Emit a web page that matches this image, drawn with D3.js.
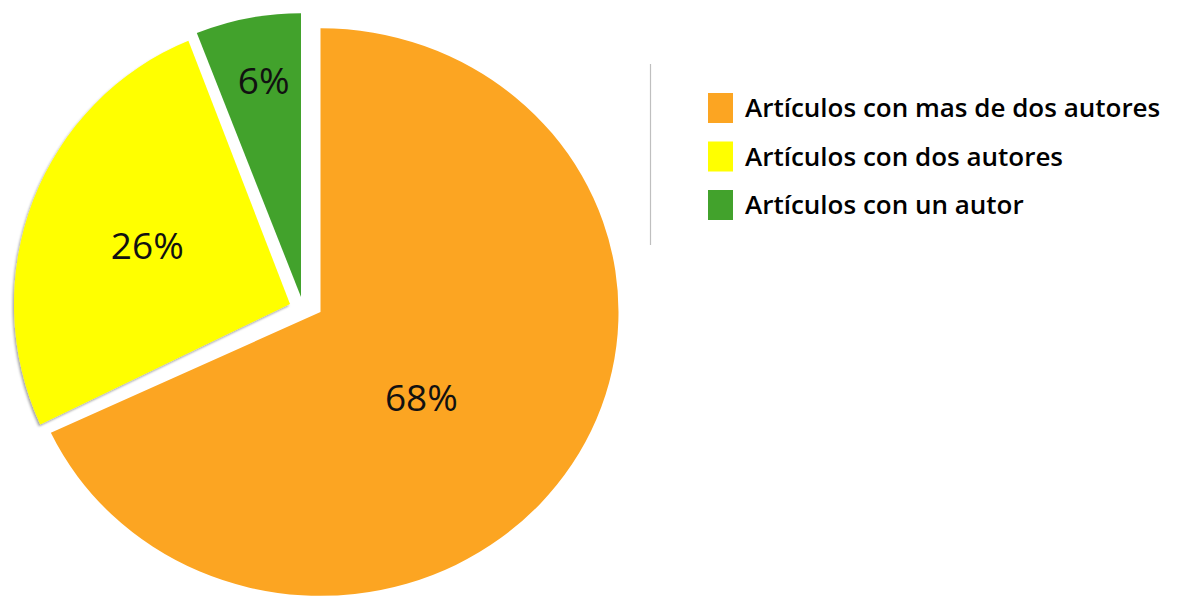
<!DOCTYPE html>
<html><head><meta charset="utf-8">
<script src="https://cdn.jsdelivr.net/npm/d3@7"></script>
<style>html,body{margin:0;padding:0;background:#fff;overflow:hidden}</style>
</head><body>
<svg id="chart" width="1179" height="597"></svg>
<script>
// ---- data ----
const categories = ["Artículos con mas de dos autores", "Artículos con dos autores", "Artículos con un autor"];
const values = [68, 26, 6];
const labels = ["68%", "26%", "6%"];
const colors = ["#FCA522", "#FFFF00", "#42A22C"];

// ---- style / layout ----
const W = 1179, H = 597;
const cx = 320.5, cy = 312;
const R = 283;
const sliceStyle = [
  {dx: 0,     dy: 0,   sx: 298 / 283, sy: 1.003, lf: 0.46, nx: -9, ny: 15},
  {dx: -30.5, dy: -8,  sx: 276 / 283, sy: 1,     lf: 0.55, nx: 2,  ny: -2},
  {dx: -19.5, dy: -15, sx: 1,         sy: 1.003, lf: 0.78, nx: 4,  ny: -1}
];
const labelFont = "'Open Sans', sans-serif";
const legendFont = "'Open Sans', sans-serif";

const svg = d3.select("#chart");
const defs = svg.append("defs");
const f = defs.append("filter").attr("id", "shadow").attr("x", "-10%").attr("y", "-10%").attr("width", "120%").attr("height", "120%");
f.append("feDropShadow").attr("dx", -1.5).attr("dy", 2).attr("stdDeviation", 1.2)
  .attr("flood-color", "#000").attr("flood-opacity", 0.35);

const pie = d3.pie().sort(null).value(d => d)(values);
const arc = d3.arc().innerRadius(0).outerRadius(R);

const g = svg.append("g").attr("transform", `translate(${cx},${cy})`);

pie.forEach((p, i) => {
  const s = sliceStyle[i];
  g.append("path")
    .attr("d", arc(p))
    .attr("fill", colors[i])
    .attr("filter", i === 1 ? "url(#shadow)" : null)
    .attr("transform", `translate(${s.dx},${s.dy}) scale(${s.sx},${s.sy})`);
});

pie.forEach((p, i) => {
  const s = sliceStyle[i];
  const a = (p.startAngle + p.endAngle) / 2;
  const x = s.dx + Math.sin(a) * R * s.lf + s.nx;
  const y = s.dy - Math.cos(a) * R * s.lf + s.ny;
  g.append("text")
    .attr("x", x).attr("y", y)
    .attr("text-anchor", "middle")
    .attr("dominant-baseline", "central")
    .attr("font-family", labelFont)
    .attr("font-size", 37)
    .attr("fill", "#111")
    .text(labels[i]);
});

// ---- legend ----
const legend = svg.append("g");
legend.append("line")
  .attr("x1", 650.5).attr("x2", 650.5).attr("y1", 64).attr("y2", 245)
  .attr("stroke", "#BFBFBF").attr("stroke-width", 1.2);

const ly = d3.scalePoint().domain(categories).range([108, 205]);
categories.forEach((c, i) => {
  const y = ly(c);
  legend.append("rect")
    .attr("x", 708).attr("y", y - 15).attr("width", 25).attr("height", 30)
    .attr("fill", colors[i]);
  legend.append("text")
    .attr("x", 745).attr("y", y + 9)
    .attr("font-family", legendFont)
    .attr("font-size", 26)
    .attr("font-weight", 600)
    .attr("fill", "#000")
    .text(c);
});
</script>
</body></html>
